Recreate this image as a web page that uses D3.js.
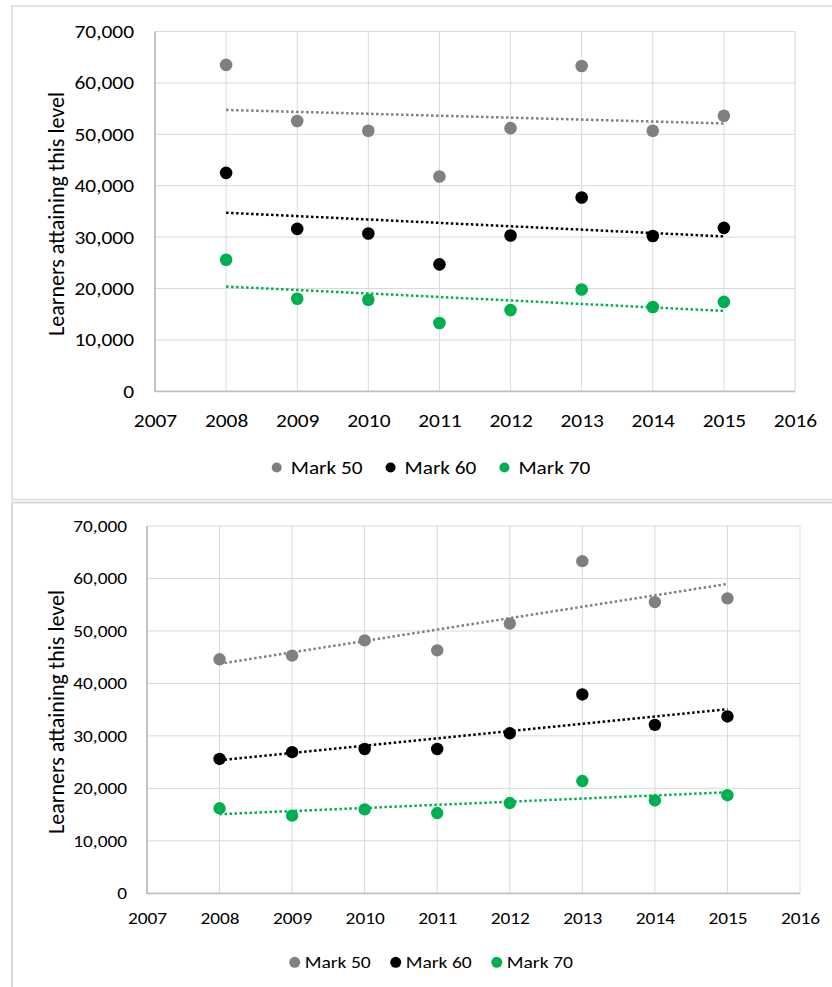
<!DOCTYPE html>
<html>
<head>
<meta charset="utf-8">
<script src="https://cdn.jsdelivr.net/npm/d3@7/dist/d3.min.js"></script>
<style>
  html, body { margin: 0; padding: 0; background: #fff; }
  svg { display: block; font-family: Carlito, Calibri, "Open Sans", sans-serif; }
</style>
</head>
<body>
<svg id="chart" width="832" height="987"></svg>
<script>
// Years on the x axis and the tick values of both charts
const years = [2008, 2009, 2010, 2011, 2012, 2013, 2014, 2015];
const xTicks = [2007, 2008, 2009, 2010, 2011, 2012, 2013, 2014, 2015, 2016];
const yTicks = [0, 10000, 20000, 30000, 40000, 50000, 60000, 70000];

const seriesNames = ["Mark 50", "Mark 60", "Mark 70"];
const seriesColors = ["#808080", "#000000", "#00b050"];
const axisTitle = "Learners attaining this level";

// Upper chart: learners reaching each mark
const topMark50 = [63500, 52600, 50700, 41800, 51200, 63300, 50700, 53600];
const topMark60 = [42500, 31600, 30700, 24700, 30300, 37700, 30200, 31800];
const topMark70 = [25600, 18000, 17800, 13300, 15800, 19800, 16400, 17400];

// Lower chart: learners reaching each mark
const bottomMark50 = [44600, 45300, 48200, 46300, 51400, 63300, 55500, 56200];
const bottomMark60 = [25600, 26900, 27500, 27500, 30500, 37900, 32100, 33700];
const bottomMark70 = [16200, 14800, 16000, 15300, 17200, 21400, 17700, 18700];

const FONT = 'Carlito, Calibri, "Open Sans", sans-serif';
const STRETCH = 1.15; // horizontal text is set slightly wide

const svg = d3.select("#chart");
svg.append("rect").attr("width", 832).attr("height", 987).attr("fill", "#fff");

// Panel frames
const frame = svg.append("g").attr("fill", "none").attr("stroke", "#d9d9d9");
frame.append("path").attr("stroke-width", 1.5)
  .attr("d", "M832,6 H12 V499.5 H832");
frame.append("path").attr("stroke-width", 2)
  .attr("d", "M832,502.5 H12 V987");

// Widen horizontal text glyphs; the widened length is kept on the node
function widen(sel) {
  sel.each(function () {
    const len = this.getComputedTextLength() * STRETCH;
    this.__width = len;
    d3.select(this).attr("textLength", len).attr("lengthAdjust", "spacingAndGlyphs");
  });
}

// Least-squares line through a series
function linearFit(xs, ys) {
  const mx = d3.mean(xs), my = d3.mean(ys);
  let sxy = 0, sxx = 0;
  xs.forEach((x, i) => { sxy += (x - mx) * (ys[i] - my); sxx += (x - mx) * (x - mx); });
  const slope = sxy / sxx;
  return x => my + slope * (x - mx);
}

function drawChart(cfg) {
  const g = svg.append("g");
  const x = d3.scaleLinear().domain([2007, 2016]).range([cfg.left, cfg.right]);
  const y = d3.scaleLinear().domain([0, 70000]).range([cfg.bottom, cfg.top]);

  // gridlines
  const grid = g.append("g").attr("stroke", "#d9d9d9").attr("stroke-width", 1);
  grid.selectAll(".h").data(yTicks.slice(1)).join("line")
    .attr("x1", cfg.left).attr("x2", cfg.right)
    .attr("y1", d => y(d)).attr("y2", d => y(d));
  grid.selectAll(".v").data(xTicks.slice(1)).join("line")
    .attr("x1", d => x(d)).attr("x2", d => x(d))
    .attr("y1", cfg.top).attr("y2", cfg.bottom);

  // axis lines
  g.append("path").attr("fill", "none").attr("stroke", "#bfbfbf").attr("stroke-width", 1.8)
    .attr("d", `M${cfg.left},${cfg.top} V${cfg.bottom} H${cfg.right}`);

  // tick labels
  const yAxis = g.append("g").attr("transform", `translate(${cfg.left},0)`)
    .call(d3.axisLeft(y).tickValues(yTicks).tickFormat(d3.format(",")).tickSize(0).tickPadding(cfg.yPad));
  const xAxis = g.append("g").attr("transform", `translate(0,${cfg.bottom})`)
    .call(d3.axisBottom(x).tickValues(xTicks).tickFormat(d3.format("d")).tickSize(0).tickPadding(cfg.xPad));
  [yAxis, xAxis].forEach(a => {
    a.select(".domain").remove();
    a.selectAll("text").attr("fill", "#000").style("font-size", cfg.tickFont + "px")
      .style("font-family", FONT).call(widen);
  });

  // axis title
  g.append("text")
    .attr("transform", `translate(${cfg.titleX},${cfg.titleY}) rotate(-90)`)
    .attr("text-anchor", "middle").attr("dominant-baseline", "central")
    .style("font-size", cfg.titleFont + "px").attr("fill", "#000")
    .text(axisTitle);

  // trendlines
  cfg.series.forEach((vals, i) => {
    const f = linearFit(years, vals);
    const x0 = d3.min(years), x1 = d3.max(years);
    g.append("line")
      .attr("x1", x(x0)).attr("y1", y(f(x0)))
      .attr("x2", x(x1)).attr("y2", y(f(x1)))
      .attr("stroke", seriesColors[i]).attr("stroke-width", 2.5)
      .attr("stroke-dasharray", "2.5,2.5");
  });

  // points
  cfg.series.forEach((vals, i) => {
    g.append("g").selectAll("circle").data(vals).join("circle")
      .attr("cx", (d, j) => x(years[j])).attr("cy", d => y(d))
      .attr("r", cfg.pointR).attr("fill", seriesColors[i]);
  });

  // legend, centred on legendCX
  const lg = g.append("g");
  const items = seriesNames.map((name, i) => {
    const c = lg.append("circle").attr("cy", cfg.legendY).attr("r", cfg.legendR).attr("fill", seriesColors[i]);
    const t = lg.append("text").attr("y", cfg.legendY)
      .attr("dominant-baseline", "central").style("font-size", cfg.legendFont + "px")
      .attr("fill", "#000").text(name).call(widen);
    return { c, t, w: t.node().__width };
  });
  const total = d3.sum(items, d => 2 * cfg.legendR + cfg.legendGap + d.w) + cfg.legendItemGap * (items.length - 1);
  let lx = cfg.legendCX - total / 2;
  items.forEach(d => {
    d.c.attr("cx", lx + cfg.legendR);
    d.t.attr("x", lx + 2 * cfg.legendR + cfg.legendGap);
    lx += 2 * cfg.legendR + cfg.legendGap + d.w + cfg.legendItemGap;
  });
}

drawChart({
  left: 155, right: 795, top: 31.5, bottom: 391.3,
  series: [topMark50, topMark60, topMark70],
  tickFont: 18.6, yPad: 21, xPad: 22,
  titleX: 56, titleY: 214, titleFont: 22,
  pointR: 6.3,
  legendCX: 431, legendY: 467.5, legendR: 5, legendGap: 9, legendItemGap: 23, legendFont: 18.5
});

drawChart({
  left: 147, right: 800, top: 526, bottom: 893.3,
  series: [bottomMark50, bottomMark60, bottomMark70],
  tickFont: 16.8, yPad: 20, xPad: 19,
  titleX: 56, titleY: 712, titleFont: 22,
  pointR: 6.2,
  legendCX: 431, legendY: 962.3, legendR: 5.5, legendGap: 4.5, legendItemGap: 19.5, legendFont: 17
});
</script>
</body>
</html>
